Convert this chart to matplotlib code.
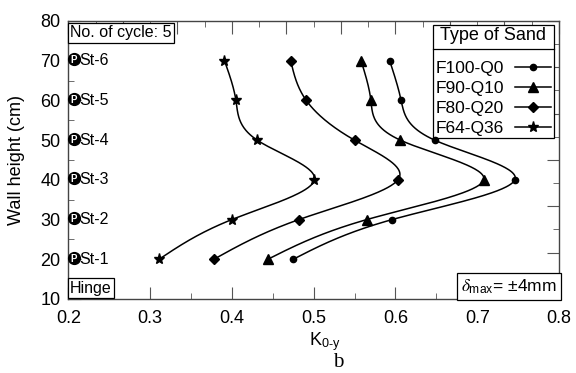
import numpy as np
import matplotlib
matplotlib.use('Agg')
import matplotlib.pyplot as plt
from matplotlib.ticker import MultipleLocator
from matplotlib.lines import Line2D

plt.rcParams['font.family'] = ['Liberation Sans', 'DejaVu Sans']
plt.rcParams['mathtext.fontset'] = 'stix'

# wall heights of the strain gauges (cm)
heights = [20, 30, 40, 50, 60, 70]
gauges = ['St-1', 'St-2', 'St-3', 'St-4', 'St-5', 'St-6']

# K0-y values, one list per sand type
k_f100_q0 = [0.475, 0.596, 0.746, 0.648, 0.607, 0.593]
k_f90_q10 = [0.444, 0.565, 0.708, 0.606, 0.570, 0.558]
k_f80_q20 = [0.378, 0.482, 0.603, 0.550, 0.491, 0.472]
k_f64_q36 = [0.311, 0.400, 0.501, 0.431, 0.405, 0.391]

series = [
    ('F100-Q0', k_f100_q0, 'o', 4.5),
    ('F90-Q10', k_f90_q10, '^', 6.5),
    ('F80-Q20', k_f80_q20, 'D', 5),
    ('F64-Q36', k_f64_q36, '*', 8),
]


def natural_spline(t, v, tt):
    # natural cubic spline v(t), evaluated at tt
    t = np.asarray(t, float)
    v = np.asarray(v, float)
    n = len(t)
    h = np.diff(t)
    A = np.zeros((n, n))
    b = np.zeros(n)
    A[0, 0] = A[-1, -1] = 1
    for i in range(1, n - 1):
        A[i, i - 1] = h[i - 1]
        A[i, i] = 2 * (h[i - 1] + h[i])
        A[i, i + 1] = h[i]
        b[i] = 3 * ((v[i + 1] - v[i]) / h[i] - (v[i] - v[i - 1]) / h[i - 1])
    c = np.linalg.solve(A, b)
    out = np.empty_like(tt)
    for k, x in enumerate(tt):
        i = min(max(np.searchsorted(t, x) - 1, 0), n - 2)
        dx = x - t[i]
        bi = (v[i + 1] - v[i]) / h[i] - h[i] * (2 * c[i] + c[i + 1]) / 3
        di = (c[i + 1] - c[i]) / (3 * h[i])
        out[k] = v[i] + bi * dx + c[i] * dx ** 2 + di * dx ** 3
    return out


fig = plt.figure(figsize=(5.76, 3.73), dpi=100, facecolor='white')
ax = fig.add_axes([0.1185, 0.1984, 0.852, 0.7453])

# extra tick marks on the top and right frame (drawn below the main axes)
top = ax.twiny()
top.set_xlim(0, 18)
top.xaxis.set_major_locator(MultipleLocator(2))
top.xaxis.set_minor_locator(MultipleLocator(1))
top.tick_params(which='both', direction='in', labeltop=False, color='#555555')
top.tick_params(which='major', length=9)
top.tick_params(which='minor', length=4)
right = ax.twinx()
right.set_ylim(0, 12)
right.yaxis.set_major_locator(MultipleLocator(2))
right.yaxis.set_minor_locator(MultipleLocator(1))
right.tick_params(which='both', direction='in', labelright=False, color='#555555')
right.tick_params(which='major', length=9)
right.tick_params(which='minor', length=4)
for a in (top, right):
    for s in a.spines.values():
        s.set_visible(False)
    a.set_zorder(0)
ax.set_zorder(1)
ax.patch.set_visible(False)

yy = np.linspace(heights[0], heights[-1], 300)
handles = []
for name, vals, mk, ms in series:
    ax.plot(natural_spline(heights, vals, yy), yy, color='black', lw=1.1)
    ax.plot(vals, heights, ls='none', marker=mk, ms=ms, color='black', zorder=11)
    handles.append(Line2D([], [], color='black', lw=1.1, marker=mk, ms=ms, label=name))

# strain gauge positions
for h, g in zip(heights, gauges):
    ax.plot([0.2065], [h + 0.4], marker='o', ms=8.5, color='black', clip_on=False, zorder=5)
    ax.text(0.2068, h + 0.1, 'P', color='white', fontsize=7, fontweight='bold',
            ha='center', va='center', zorder=6)
    ax.text(0.2135, h, g, fontsize=11.5, ha='left', va='center')

ax.set_xlim(0.2, 0.8)
ax.set_ylim(10, 80)
ax.xaxis.set_major_locator(MultipleLocator(0.1))
ax.xaxis.set_minor_locator(MultipleLocator(0.05))
ax.yaxis.set_major_locator(MultipleLocator(10))
ax.yaxis.set_minor_locator(MultipleLocator(5))
ax.tick_params(which='both', direction='in', labelsize=13, color='#555555')
ax.tick_params(axis='x', which='major', length=9, pad=8)
ax.tick_params(axis='y', which='major', length=9, pad=5.5)
ax.tick_params(which='minor', length=4)
ax.set_xticks([0.2, 0.3, 0.4, 0.5, 0.6, 0.7, 0.8])
ax.set_xticklabels(['0.2', '0.3', '0.4', '0.5', '0.6', '0.7', '0.8'])
for s in ax.spines.values():
    s.set_color('#444444')
    s.set_linewidth(1.0)

ax.set_ylabel('Wall height (cm)', fontsize=13)
ax.yaxis.set_label_coords(-0.088, 0.5)
ax.set_xlabel(r'K$_{\mathregular{0\text{-}y}}$', fontsize=13)
ax.xaxis.set_label_coords(0.523, -0.112)

box = dict(boxstyle='square,pad=0.15', fc='white', ec='black', lw=0.9)
ax.text(0.004, 0.985, 'No. of cycle: 5', transform=ax.transAxes, fontsize=11.5,
        ha='left', va='top', bbox=box, zorder=8)
ax.text(0.004, 0.012, 'Hinge', transform=ax.transAxes, fontsize=11.5,
        ha='left', va='bottom', bbox=box, zorder=8)
ax.text(0.996, 0.012, r'$\delta_{\mathregular{max}}$= ±4mm', transform=ax.transAxes,
        fontsize=12.5, ha='right', va='bottom', bbox=dict(boxstyle='square,pad=0.25',
        fc='white', ec='black', lw=0.9), zorder=8)

leg = ax.legend(handles=handles, title='Type of Sand', loc='upper right',
                bbox_to_anchor=(0.99, 0.986), markerfirst=False, fontsize=12.5,
                title_fontsize=13, frameon=True, fancybox=False, framealpha=1,
                edgecolor='black', handlelength=2.1, handletextpad=0.65,
                labelspacing=0.27, borderpad=0.15, borderaxespad=0)
leg.get_frame().set_linewidth(0.9)
leg.set_zorder(10)
leg._legend_box.sep = 12

fig.text(0.587, 0.002, 'b', fontsize=15, family='Liberation Serif', ha='center',
         va='bottom')

# separator line under the legend title
fig.canvas.draw()
fb = leg.get_frame().get_window_extent()
tb = leg.get_title().get_window_extent()
ysep = tb.y0 - 5
inv = fig.transFigure.inverted()
x0, y0 = inv.transform((fb.x0, ysep))
x1, _ = inv.transform((fb.x1, ysep))
fig.add_artist(Line2D([x0, x1], [y0, y0], color='black', lw=0.9, zorder=20))

fig.savefig('out.png', dpi=100)
